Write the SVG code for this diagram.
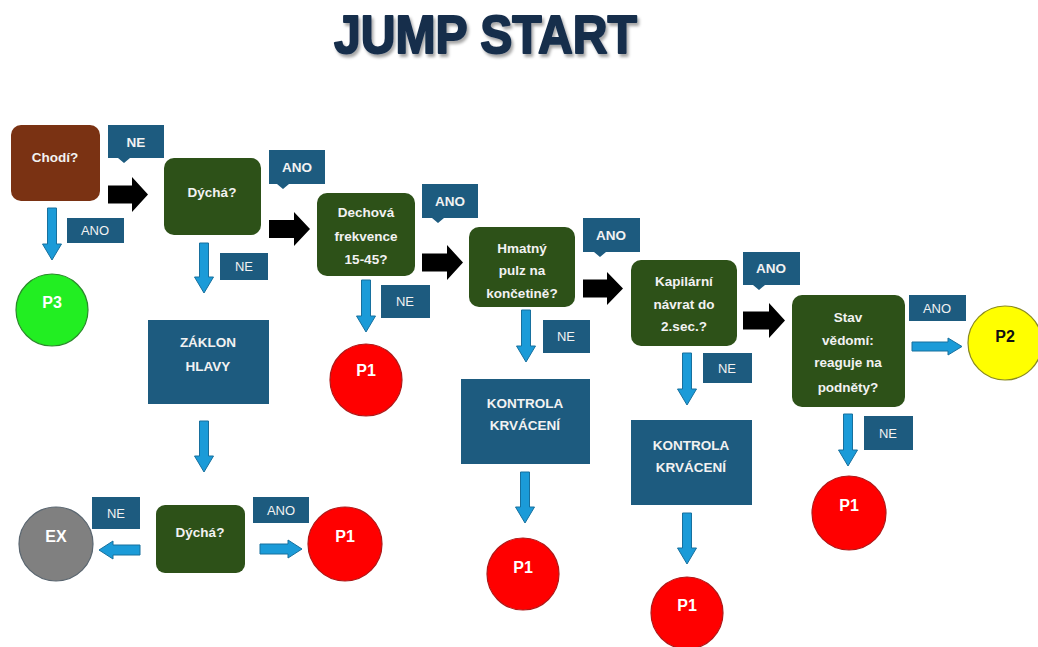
<svg xmlns="http://www.w3.org/2000/svg" width="1038" height="647" viewBox="0 0 1038 647">
<defs>
<filter id="sh" x="-10%" y="-20%" width="130%" height="160%"><feDropShadow dx="2" dy="3" stdDeviation="1.5" flood-color="#000" flood-opacity="0.35"/></filter>
</defs>
<style>
.title{font-family:"Liberation Sans",Arial,sans-serif;font-weight:bold;font-size:54px;fill:#172e4c;stroke:#172e4c;stroke-width:2;stroke-linejoin:round}
.q{fill:#2d5118}
.brown{fill:#7a3213}
.lbl{fill:#1d5b7f}
.t{font-family:"Liberation Sans",Arial,sans-serif;font-weight:bold;font-size:13.5px;fill:#f2f2f2;text-anchor:middle}
.ln{font-family:"Liberation Sans",Arial,sans-serif;font-size:13px;fill:#f2f2f2;text-anchor:middle}
.lb{font-family:"Liberation Sans",Arial,sans-serif;font-weight:bold;font-size:13.5px;fill:#f2f2f2;text-anchor:middle}
.c{font-family:"Liberation Sans",Arial,sans-serif;font-weight:bold;font-size:16px;fill:#fff;text-anchor:middle}
.red{fill:#ff0000;stroke:#b01818;stroke-width:1.2}
.blk{fill:#000}
.blu{fill:#1b9bd8;stroke:#17709e;stroke-width:1}
</style>
<rect width="1038" height="647" fill="#ffffff"/>
<text class="title" x="334" y="53" textLength="303" lengthAdjust="spacingAndGlyphs" filter="url(#sh)">JUMP START</text>

<g id="connectors">
<polygon class="blk" points="108,185.5 132,185.5 132,177 148,194.5 132,212 132,203.5 108,203.5"/>
<polygon class="blk" points="269,220 294,220 294,212 310,229 294,246 294,238 269,238"/>
<polygon class="blk" points="422,253.5 447,253.5 447,245 463,262.5 447,280 447,271.5 422,271.5"/>
<polygon class="blk" points="583,279.5 607,279.5 607,272 623,288.5 607,305 607,297.5 583,297.5"/>
<polygon class="blk" points="743,311.5 769,311.5 769,303 785,320.5 769,338 769,329.5 743,329.5"/>
<polygon class="blu" points="47.5,208 56.5,208 56.5,244 61.5,244 52,260 42.5,244 47.5,244"/>
<polygon class="blu" points="199.5,243 208.5,243 208.5,277 213.5,277 204,293 194.5,277 199.5,277"/>
<polygon class="blu" points="199.5,421 208.5,421 208.5,456 213.5,456 204,472 194.5,456 199.5,456"/>
<polygon class="blu" points="361.5,280 370.5,280 370.5,316 375.5,316 366,332 356.5,316 361.5,316"/>
<polygon class="blu" points="521.5,310 530.5,310 530.5,346 535.5,346 526,362 516.5,346 521.5,346"/>
<polygon class="blu" points="520.5,472 529.5,472 529.5,507 534.5,507 525,523 515.5,507 520.5,507"/>
<polygon class="blu" points="682.5,353 691.5,353 691.5,389 696.5,389 687,405 677.5,389 682.5,389"/>
<polygon class="blu" points="682.5,513 691.5,513 691.5,548 696.5,548 687,564 677.5,548 682.5,548"/>
<polygon class="blu" points="843.5,414 852.5,414 852.5,450 857.5,450 848,466 838.5,450 843.5,450"/>
<polygon class="blu" points="140,545 140,555 113,555 113,559 99,550 113,541 113,545"/>
<polygon class="blu" points="260,544 260,554 288,554 288,558 302,549 288,540 288,544"/>
<polygon class="blu" points="912,342 912,351 948,351 948,355 962,346.5 948,338 948,342"/>
</g>

<g id="labels">
<g id="lbl-ne1"><path class="lbl" d="M108,125H164V158H130L124,163L118,158H108Z"/><text class="lb" x="136" y="147">NE</text></g>
<g id="lbl-ano1"><path class="lbl" d="M269,150H325V184H289L283,189L277,184H269Z"/><text class="lb" x="297" y="172">ANO</text></g>
<g id="lbl-ano2"><path class="lbl" d="M422,184H478V218H444L438,223L432,218H422Z"/><text class="lb" x="450" y="206">ANO</text></g>
<g id="lbl-ano3"><path class="lbl" d="M583,218H640V252H606L600,257L594,252H583Z"/><text class="lb" x="611" y="240">ANO</text></g>
<g id="lbl-ano4"><path class="lbl" d="M743,252H800V285H765L759,290L753,285H743Z"/><text class="lb" x="771" y="273">ANO</text></g>
<g id="lbl-ano5"><rect class="lbl" x="67" y="218" width="57" height="25"/><text class="ln" x="95" y="235">ANO</text></g>
<g id="lbl-ne2"><rect class="lbl" x="220" y="253" width="48" height="27"/><text class="ln" x="244" y="271">NE</text></g>
<g id="lbl-ne3"><rect class="lbl" x="381" y="285" width="49" height="33"/><text class="ln" x="405" y="306">NE</text></g>
<g id="lbl-ne4"><rect class="lbl" x="543" y="320" width="47" height="33"/><text class="ln" x="566" y="341">NE</text></g>
<g id="lbl-ne5"><rect class="lbl" x="703" y="353" width="49" height="30"/><text class="ln" x="727" y="373">NE</text></g>
<g id="lbl-ano6"><rect class="lbl" x="909" y="295" width="57" height="26"/><text class="ln" x="937" y="313">ANO</text></g>
<g id="lbl-ne6"><rect class="lbl" x="864" y="416" width="49" height="34"/><text class="ln" x="888" y="438">NE</text></g>
<g id="lbl-ne7"><rect class="lbl" x="92" y="497" width="48" height="32"/><text class="ln" x="116" y="518">NE</text></g>
<g id="lbl-ano7"><rect class="lbl" x="253" y="497" width="56" height="26"/><text class="ln" x="281" y="515">ANO</text></g>
</g>

<g id="n-chodi"><rect class="brown" x="11" y="125" width="89" height="76" rx="10"/><text class="t" x="55" y="162">Chodí?</text></g>
<g id="n-dycha1"><rect class="q" x="164" y="158" width="97" height="77" rx="10"/><text class="t" x="212" y="197">Dýchá?</text></g>
<g id="n-dechova"><rect class="q" x="317" y="193" width="98" height="83" rx="10"/><text class="t" x="366" y="217">Dechová</text><text class="t" x="366" y="241">frekvence</text><text class="t" x="366" y="264">15-45?</text></g>
<g id="n-hmatny"><rect class="q" x="469" y="227" width="106" height="80" rx="10"/><text class="t" x="522" y="253">Hmatný</text><text class="t" x="522" y="275">pulz na</text><text class="t" x="522" y="298">končetině?</text></g>
<g id="n-kapilarni"><rect class="q" x="631" y="260" width="106" height="86" rx="10"/><text class="t" x="684" y="286">Kapilární</text><text class="t" x="684" y="309">návrat do</text><text class="t" x="684" y="331">2.sec.?</text></g>
<g id="n-stav"><rect class="q" x="792" y="295" width="113" height="112" rx="10"/><text class="t" x="848" y="322">Stav</text><text class="t" x="848" y="345">vědomí:</text><text class="t" x="848" y="367">reaguje na</text><text class="t" x="848" y="392">podněty?</text></g>
<g id="n-zaklon"><rect class="lbl" x="148" y="320" width="121" height="84"/><text class="t" x="208" y="347">ZÁKLON</text><text class="t" x="208" y="371">HLAVY</text></g>
<g id="n-dycha2"><rect class="q" x="156" y="505" width="89" height="68" rx="9"/><text class="t" x="200" y="537">Dýchá?</text></g>
<g id="n-kontrola1"><rect class="lbl" x="461" y="379" width="129" height="85"/><text class="t" x="525" y="408">KONTROLA</text><text class="t" x="525" y="430">KRVÁCENÍ</text></g>
<g id="n-kontrola2"><rect class="lbl" x="631" y="420" width="121" height="85"/><text class="t" x="691" y="450">KONTROLA</text><text class="t" x="691" y="472">KRVÁCENÍ</text></g>

<g id="n-p3"><circle cx="52" cy="310" r="36" fill="#22ee22" stroke="#2a8a2a" stroke-width="1.2"/><text class="c" x="52" y="308">P3</text></g>
<g id="n-p1a"><circle class="red" cx="366" cy="380" r="36"/><text class="c" x="366" y="376">P1</text></g>
<g id="n-ex"><circle cx="56" cy="544" r="37" fill="#808080" stroke="#5a6670" stroke-width="1.2"/><text class="c" x="56" y="542">EX</text></g>
<g id="n-p1b"><circle class="red" cx="345" cy="544" r="37"/><text class="c" x="345" y="542">P1</text></g>
<g id="n-p1c"><circle class="red" cx="523" cy="574" r="36"/><text class="c" x="523" y="573">P1</text></g>
<g id="n-p1d"><circle class="red" cx="687" cy="613" r="36"/><text class="c" x="687" y="611">P1</text></g>
<g id="n-p1e"><circle class="red" cx="849" cy="513" r="37"/><text class="c" x="849" y="511">P1</text></g>
<g id="n-p2"><circle cx="1005" cy="343" r="37" fill="#ffff00" stroke="#8a8a20" stroke-width="1.2"/><text class="c" x="1005" y="342" style="fill:#111">P2</text></g>
</svg>
